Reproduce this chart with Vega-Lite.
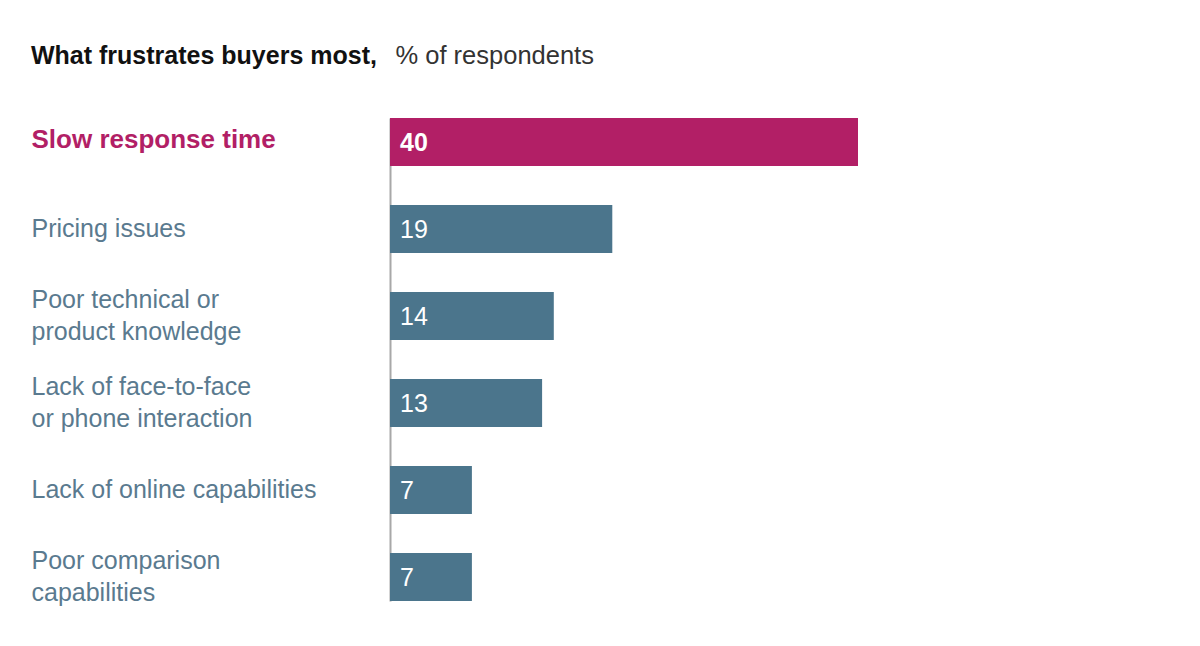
{
  "$schema": "https://vega.github.io/schema/vega-lite/v6.json",
  "width": 468,
  "height": 483,
  "autosize": {"type": "none"},
  "padding": {"left": 390, "top": 118, "right": 342, "bottom": 45},
  "background": "white",
  "config": {"view": {"stroke": null}, "font": "Liberation Sans"},
  "title": {
    "text": "What frustrates buyers most,",
    "anchor": "start",
    "frame": "group",
    "orient": "top",
    "dx": -359,
    "dy": 32,
    "fontSize": 25,
    "fontWeight": "bold",
    "color": "#111111",
    "font": "Liberation Sans",
    "offset": 6
  },
  "data": {
    "values": [
      {"label": "Slow response time", "value": 40, "highlight": "yes"},
      {"label": "Pricing issues", "value": 19, "highlight": "no"},
      {"label": "Poor technical or|product knowledge", "value": 14, "highlight": "no"},
      {"label": "Lack of face-to-face|or phone interaction", "value": 13, "highlight": "no"},
      {"label": "Lack of online capabilities", "value": 7, "highlight": "no"},
      {"label": "Poor comparison|capabilities", "value": 7, "highlight": "no"}
    ]
  },
  "encoding": {
    "y": {
      "field": "label",
      "type": "nominal",
      "sort": null,
      "scale": {"paddingInner": 0.448, "paddingOuter": 0},
      "axis": {
        "title": null,
        "ticks": false,
        "tickSize": 0,
        "labelPadding": 359,
        "labelAlign": "left",
        "labelBaseline": "middle",
        "labelFontSize": {"expr": "datum.value == 'Slow response time' ? 26 : 25"},
        "labelLineHeight": 32,
        "labelLimit": 400,
        "labelFont": "Liberation Sans",
        "labelExpr": "split(datum.value, '|')",
        "labelOffset": {"expr": "indexof(datum.value, '|') >= 0 ? -16 : (datum.value == 'Slow response time' ? -2 : 0)"},
        "labelColor": {"expr": "datum.value == 'Slow response time' ? '#B21F66' : '#5A7A8F'"},
        "labelFontWeight": {"expr": "datum.value == 'Slow response time' ? 'bold' : 'normal'"},
        "domain": true,
        "domainColor": "#A8A8A8",
        "domainWidth": 2,
        "grid": false
      }
    }
  },
  "layer": [
    {
      "mark": {"type": "bar"},
      "encoding": {
        "x": {
          "field": "value",
          "type": "quantitative",
          "scale": {"domain": [0, 40]},
          "axis": {
            "orient": "top",
            "title": "% of respondents",
            "labels": false,
            "ticks": false,
            "domain": false,
            "grid": false,
            "titleX": 5,
            "titleY": -55,
            "titleAlign": "left",
            "titleAnchor": null,
            "titleBaseline": "alphabetic",
            "titleFontSize": 25.5,
            "titleFontWeight": "normal",
            "titleFont": "Liberation Sans",
            "titleColor": "#333333"
          }
        },
        "color": {
          "field": "highlight",
          "type": "nominal",
          "scale": {"domain": ["yes", "no"], "range": ["#B21F66", "#4B758C"]},
          "legend": null
        }
      }
    },
    {
      "transform": [{"filter": "datum.highlight == 'yes'"}],
      "mark": {"type": "text", "align": "left", "baseline": "middle", "dx": 10, "dy": 1, "fontSize": 25, "fontWeight": "bold", "color": "white", "font": "Liberation Sans"},
      "encoding": {
        "x": {"datum": 0, "type": "quantitative"},
        "text": {"field": "value", "type": "quantitative"}
      }
    },
    {
      "transform": [{"filter": "datum.highlight == 'no'"}],
      "mark": {"type": "text", "align": "left", "baseline": "middle", "dx": 10, "dy": 1, "fontSize": 25, "fontWeight": "normal", "color": "white", "font": "Liberation Sans"},
      "encoding": {
        "x": {"datum": 0, "type": "quantitative"},
        "text": {"field": "value", "type": "quantitative"}
      }
    }
  ]
}
